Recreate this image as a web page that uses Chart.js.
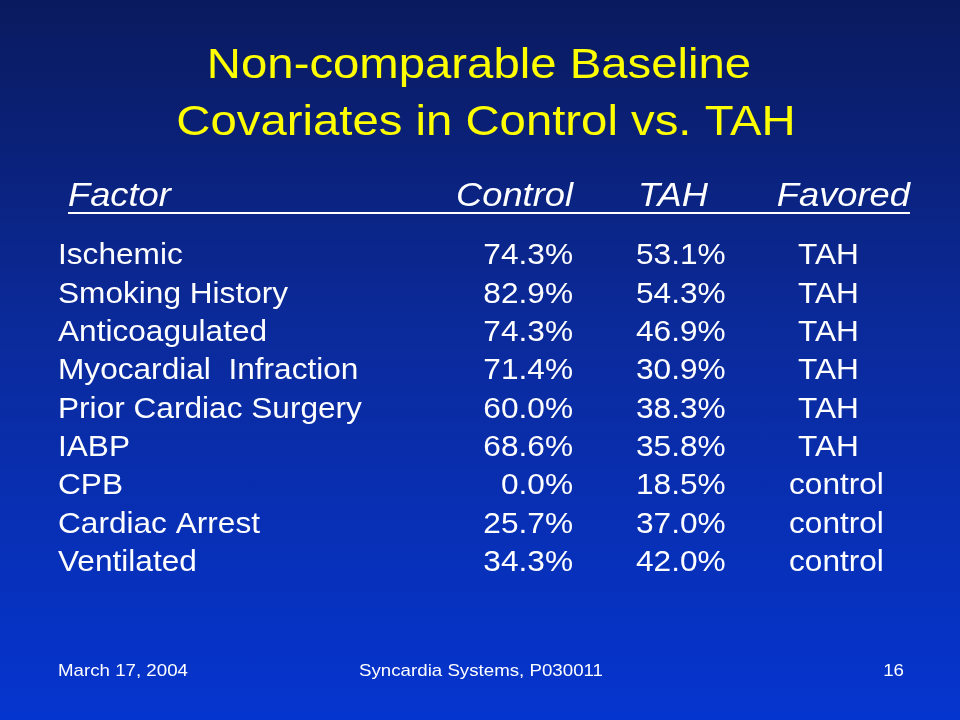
<!DOCTYPE html>
<html><head><meta charset="utf-8">
<script src="https://cdn.jsdelivr.net/npm/chart.js@4"></script>
<style>html,body{margin:0;padding:0;width:960px;height:720px;overflow:hidden}
body{background:linear-gradient(#0a1a5e 0%,#0b2a9a 45%,#0535cf 100%)}</style>
</head><body><canvas id="c" width="960" height="720"></canvas>
<script>
const titleLines = ["Non-comparable Baseline", "Covariates in Control vs. TAH"];
const headers = ["Factor", "Control", "TAH", "Favored"];
const factors = ["Ischemic","Smoking History","Anticoagulated","Myocardial  Infraction","Prior Cardiac Surgery","IABP","CPB","Cardiac Arrest","Ventilated"];
const controlPct = [74.3,82.9,74.3,71.4,60.0,68.6,0.0,25.7,34.3];
const tahPct = [53.1,54.3,46.9,30.9,38.3,35.8,18.5,37.0,42.0];
const favored = ["TAH","TAH","TAH","TAH","TAH","TAH","control","control","control"];
const footer = ["March 17, 2004","Syncardia Systems, P030011","16"];

function txt(ctx, s, x, y, align, SX){
  const w = ctx.measureText(s).width * SX;
  let x0 = align==='right' ? x - w : align==='center' ? x - w/2 : x;
  ctx.save(); ctx.translate(x0, y); ctx.scale(SX, 1);
  ctx.textAlign='left'; ctx.fillText(s, 0, 0); ctx.restore();
}
const tablePlugin = {
  id:'table',
  afterDraw(chart){
    const ctx=chart.ctx, y=chart.scales.y;
    ctx.save();
    ctx.textBaseline='middle';
    ctx.fillStyle='#ffff00';
    ctx.font='43px "Liberation Sans", Arial';
    txt(ctx,titleLines[0],479,66,'center',1.1); txt(ctx,titleLines[1],486,123,'center',1.1);
    ctx.fillStyle='#fff';
    ctx.font='italic 33px "Liberation Sans", Arial';
    txt(ctx,headers[0],68,197,'left',1.1);
    txt(ctx,headers[1],573,197,'right',1.1);
    txt(ctx,headers[2],638,197,'left',1.1);
    txt(ctx,headers[3],910,197,'right',1.1);
    ctx.fillRect(68,212,842,2);
    ctx.font='29px "Liberation Sans", Arial';
    factors.forEach((f,i)=>{
      const py=y.getPixelForValue(i)+2;
      txt(ctx,f,58,py,'left',1.09);
      txt(ctx,controlPct[i].toFixed(1)+'%',573,py,'right',1.09);
      txt(ctx,tahPct[i].toFixed(1)+'%',636,py,'left',1.09);
      txt(ctx,favored[i],favored[i]==='TAH'?798:789,py,'left',1.09);
    });
    ctx.font='17px "Liberation Sans", Arial';
    txt(ctx,footer[0],58,671,'left',1.1);
    txt(ctx,footer[1],481,671,'center',1.1);
    txt(ctx,footer[2],904,671,'right',1.1);
    ctx.restore();
  }
};
new Chart(document.getElementById('c'),{
  type:'bar',
  data:{labels:factors,datasets:[{data:controlPct,backgroundColor:'rgba(0,0,0,0)',borderWidth:0}]},
  options:{responsive:false,animation:false,indexAxis:'y',
    layout:{padding:{top:235,bottom:140,left:0,right:0}},
    plugins:{legend:{display:false},tooltip:{enabled:false}},
    scales:{y:{display:false},x:{display:false,min:0,max:100}}},
  plugins:[tablePlugin]
});
</script></body></html>
